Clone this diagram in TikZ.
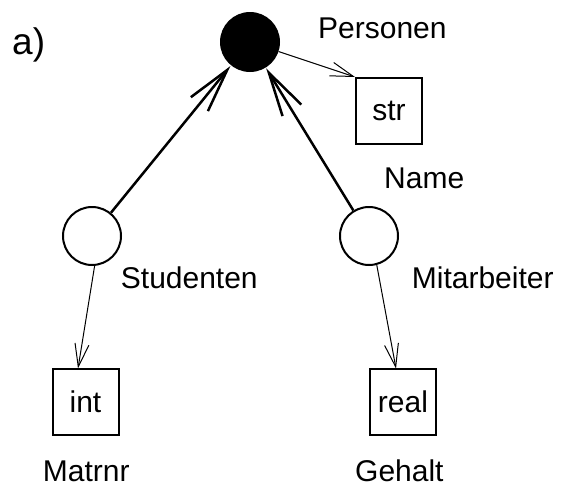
\documentclass[tikz,border=0pt]{standalone}
\usepackage{fontspec}
\setmainfont{Liberation Sans}
\usetikzlibrary{arrows.meta}
\tikzset{
  lbl/.style={anchor=base west, inner sep=0pt, font=\fontsize{30}{36}\selectfont},
  objc/.style={circle, draw, line width=2pt, minimum size=58pt, inner sep=0pt},
  valbox/.style={draw, line width=2pt, minimum size=66pt, inner sep=0pt, font=\fontsize{30}{36}\selectfont},
  isa/.style={line width=2.5pt, -{Straight Barb[length=44pt, width=22pt, line width=2.5pt]}, shorten >=1pt},
  attr/.style={line width=1pt, -{Straight Barb[length=23pt, width=14pt, line width=1pt]}}
}
\begin{document}
\begin{tikzpicture}[x=1pt,y=-1pt]
\useasboundingbox (0,0) rectangle (563,488);
\node[objc, fill=black] (P) at (250,42) {};
\node[objc] (S) at (92,236) {};
\node[objc] (M) at (369,236) {};
\node[valbox] (str) at (389,111) {str};
\node[valbox] (int) at (85.5,401.5) {int};
\node[valbox] (real) at (403,401.5) {real};
\coordinate (intin) at (78,368.5);
\coordinate (realin) at (396,368.5);
\node[lbl, font=\fontsize{37}{40}\selectfont] (a) at (12,54) {a)};
\node[lbl] (lP) at (318,38.3) {Personen};
\node[lbl] (lN) at (384,188.3) {Name};
\node[lbl] (lS) at (120.7,288) {Studenten};
\node[lbl] (lM) at (411.7,288) {Mitarbeiter};
\node[lbl] (lMa) at (42.7,481.7) {Matrnr};
\node[lbl] (lG) at (355,481.7) {Gehalt};
\draw[isa] (S) -- (P);
\draw[isa] (M) -- (P);
\draw[attr] (P) -- (str.north west);
\draw[attr] (S.-85) -- (intin);
\draw[attr] (M.-75) -- (realin);
\end{tikzpicture}
\end{document}
